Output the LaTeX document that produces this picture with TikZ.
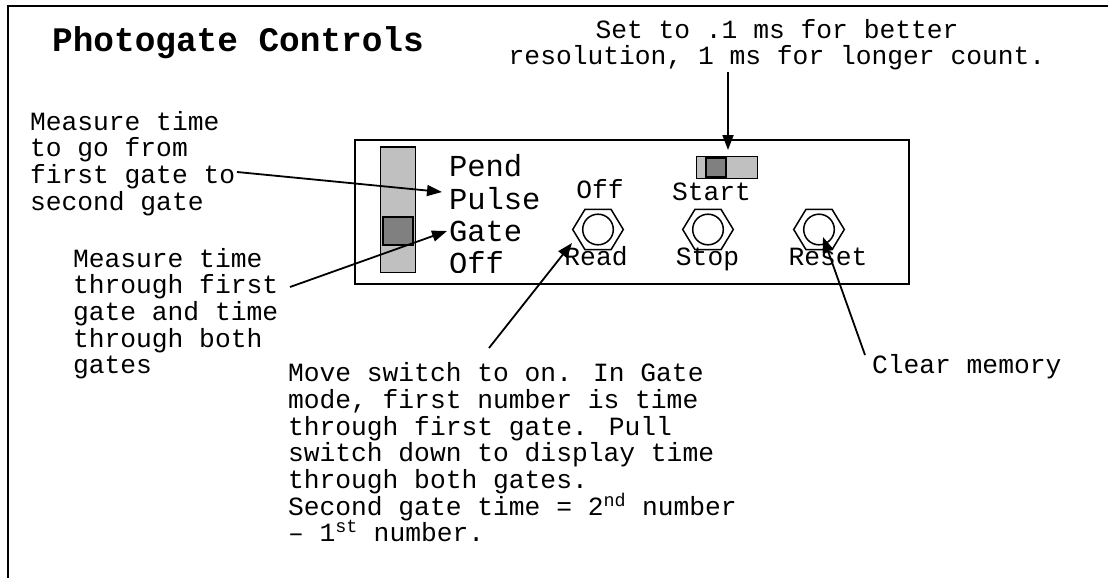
\documentclass[tikz,border=0pt]{standalone}
\usepackage{fontspec}
\newfontfamily\cour{Liberation Mono}
\usetikzlibrary{arrows.meta}
\definecolor{lightg}{HTML}{C0C0C0}
\definecolor{darkg}{HTML}{808080}
\newcommand\mytight{\lineskiplimit=-100pt\relax}
\newcommand\mytxtfont{\cour\fontsize{26.3}{26.7}\selectfont\mytight}
\newcommand\myswfont{\cour\fontsize{30.5}{32.4}\selectfont\mytight}
\tikzset{
  txt/.style={inner sep=0pt, outer sep=0pt, font=\mytxtfont, align=left},
  ctxt/.style={inner sep=0pt, outer sep=0pt, font=\mytxtfont, align=center, anchor=base},
  swtxt/.style={inner sep=0pt, outer sep=0pt, font=\myswfont, align=left, anchor=base west},
  arr/.style={line width=1.8pt, -{Triangle[length=15pt,width=11pt]}},
  hexline/.style={line width=1.5pt},
  btn/.style={circle, draw, line width=1.5pt, minimum size=30.6pt, inner sep=0pt},
  swbox/.style={draw, line width=1.5pt}
}
\begin{document}
\begin{tikzpicture}[x=1pt,y=-1pt]
\useasboundingbox (0,0) rectangle (1108,578);
% outer frame
\draw[line width=2pt] (7.5,578) -- (7.5,6) -- (1108,6);
% title
\node[inner sep=0pt, anchor=base west, font=\cour\bfseries\fontsize{34.4}{36}\selectfont] (title) at (52,52) {Photogate Controls};
% top annotation (anchored at the baseline of its last line)
\node[ctxt] (settxt) at (777,65) {Set to .1 ms for better\\resolution, 1 ms for longer count.};
% panel
\draw[line width=2pt] (355,140) rectangle (909,284);
% vertical switch
\draw[swbox, fill=lightg] (380.7,147) rectangle (415.7,272.7);
\draw[swbox, fill=darkg] (383,217) rectangle (413,245);
% switch labels (clipped)
\begin{scope}
\clip (440,145) rectangle (560,272);
\node[swtxt] (modes) at (449,273.9) {Pend\\Pulse\\Gate\\Off};
\end{scope}
\coordinate (pulseTip) at (442,192);
\coordinate (gateTip) at (447,231);
% horizontal switch
\draw[swbox, fill=lightg] (696.7,156.7) rectangle (757.7,178.3);
\draw[swbox, fill=darkg] (706,158) rectangle (726,177);
\coordinate (startTip) at (728,150);
% buttons
\foreach \n/\cx in {read/598, stop/708, reset/819}{
  \draw[hexline] (\cx-25.3,229.5) -- (\cx-13,209.3) -- (\cx+13,209.3) -- (\cx+25.3,229.5) -- (\cx+13,249.7) -- (\cx-13,249.7) -- cycle;
  \node[btn] (\n) at (\cx,229.5) {};
}
% button labels
\node[ctxt] (offlbl) at (600,198) {Off};
\node[ctxt] (readlbl) at (596,265) {Read};
\node[ctxt] (startlbl) at (711.5,200) {Start};
\node[ctxt] (stoplbl) at (707.5,265) {Stop};
\node[ctxt] (resetlbl) at (828,265) {Reset};
% left annotations (anchored at the baseline of the last line)
\node[txt, anchor=base west] (pulsetxt) at (30,210.1) {Measure time\\to go from\\first gate to\\second gate};
\node[txt, anchor=base west] (gatetxt) at (73,373.8) {Measure time\\through first\\gate and time\\through both\\gates};
\node[txt, anchor=base west] (readtxt) at (288,541.9) {Move switch to on. In Gate\\mode, first number is time\\through first gate. Pull\\switch down to display time\\through both gates.\\Second gate time = 2\textsuperscript{nd} number\\\textendash{} 1\textsuperscript{st} number.};
\node[txt, anchor=base west] (cleartxt) at (872,373) {Clear memory};
% connector start points
\coordinate (pulseStart) at (237,172);
\coordinate (gateStart) at (290,287);
\coordinate (readStart) at (489,348);
\coordinate (readTip) at (572,243);
\coordinate (clearStart) at (865,355);
\coordinate (resetTip) at (823,237);
\coordinate (setStart) at (728,72);
% arrows
\draw[arr] (pulseStart) -- (pulseTip);
\draw[arr] (gateStart) -- (gateTip);
\draw[arr] (readStart) -- (readTip);
\draw[arr] (clearStart) -- (resetTip);
\draw[arr] (setStart) -- (startTip);
\end{tikzpicture}
\end{document}
